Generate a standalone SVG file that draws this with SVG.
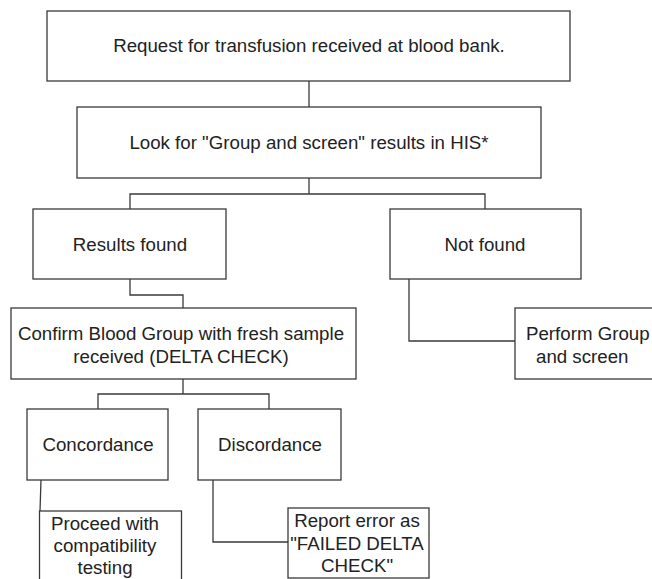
<svg xmlns="http://www.w3.org/2000/svg" width="652" height="579" viewBox="0 0 652 579">
<style>
.box{fill:#fff;stroke:#3a3a3a;stroke-width:1.3}
.ln{fill:none;stroke:#3a3a3a;stroke-width:1.3}
text{font-family:"Liberation Sans",Arial,sans-serif;font-size:18.7px;fill:#222}
.c{text-anchor:middle}
</style>
<rect width="652" height="579" fill="#fff"/>
<g id="connectors">
<path class="ln" d="M309,81 V107"/>
<path class="ln" d="M309,178 V194 M130,209 V194 H485 V209"/>
<path class="ln" d="M130,279 V295 H183 V308"/>
<path class="ln" d="M409,279 V341 H515"/>
<path class="ln" d="M183,379 V394 M98,409 V394 H269 V409"/>
<path class="ln" d="M41,480 L40,511"/>
<path class="ln" d="M213,480 V542 H288"/>
</g>
<g id="n1"><rect class="box" x="47" y="11" width="523" height="70"/><text class="c" x="309" y="52">Request for transfusion received at blood bank.</text></g>
<g id="n2"><rect class="box" x="77" y="107" width="464" height="71"/><text class="c" x="309" y="149">Look for "Group and screen" results in HIS*</text></g>
<g id="n3"><rect class="box" x="33" y="209" width="193" height="70"/><text class="c" x="130" y="251">Results found</text></g>
<g id="n4"><rect class="box" x="390" y="209" width="191" height="70"/><text class="c" x="485" y="251">Not found</text></g>
<g id="n5"><rect class="box" x="11" y="308" width="345" height="71"/><text class="c" x="181" y="340">Confirm Blood Group with fresh sample</text><text class="c" x="181" y="363">received (DELTA CHECK)</text></g>
<g id="n6"><rect class="box" x="515" y="308" width="150" height="71"/><text x="526" y="340">Perform Group</text><text x="536" y="363">and screen</text></g>
<g id="n7"><rect class="box" x="27" y="409" width="141" height="71"/><text class="c" x="98" y="451">Concordance</text></g>
<g id="n8"><rect class="box" x="198" y="409" width="143" height="71"/><text class="c" x="270" y="451">Discordance</text></g>
<g id="n9"><rect class="box" x="39.5" y="511" width="142" height="80"/><text class="c" x="105" y="530">Proceed with</text><text class="c" x="105" y="552">compatibility</text><text class="c" x="105" y="574">testing</text></g>
<g id="n10"><rect class="box" x="288" y="508" width="141" height="70"/><text class="c" x="357" y="527">Report error as</text><text class="c" x="357" y="550">"FAILED DELTA</text><text class="c" x="357" y="572">CHECK"</text></g>
</svg>
